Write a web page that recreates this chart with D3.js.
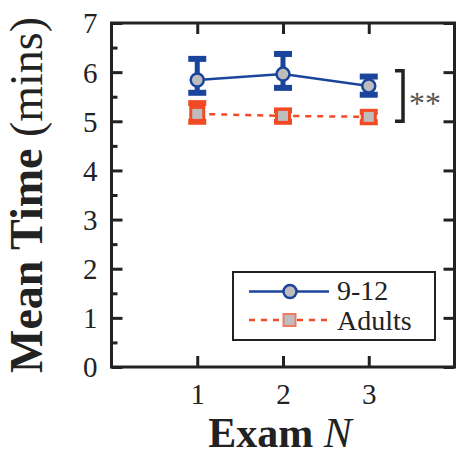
<!DOCTYPE html>
<html><head><meta charset="utf-8">
<script src="https://cdn.jsdelivr.net/npm/d3@7/dist/d3.min.js"></script>
<style>body{margin:0;background:#fff}svg{display:block}
text{font-family:"Liberation Serif","Times New Roman",serif}</style>
</head><body>
<svg id="c" width="456" height="456"></svg>
<script>
const exams = [1, 2, 3];
const kidsMean = [5.84, 5.96, 5.72];
const kidsLo = [5.58, 5.68, 5.54];
const kidsHi = [6.27, 6.37, 5.91];
const adultMean = [5.15, 5.11, 5.09];
const adultLo = [4.99, 4.99, 4.98];
const adultHi = [5.37, 5.22, 5.19];
const yTicks = [0, 1, 2, 3, 4, 5, 6, 7];
const yMinor = [0.5, 1.5, 2.5, 3.5, 4.5, 5.5, 6.5];
const seriesNames = ["9-12", "Adults"];

const blue = "#1b449c", red = "#f24a25", gray = "#bdbdbd", ink = "#222";
const svg = d3.select("#c");
const x = d3.scaleLinear().domain([0, 4]).range([111.5, 454.5]);
const y = d3.scaleLinear().domain([0, 7]).range([367, 23]);
const font = "Liberation Serif";

const gL = svg.append("g").attr("transform", `translate(${x(0)},0)`)
  .call(d3.axisLeft(y).tickValues(yTicks).tickSize(-11).tickPadding(14).tickFormat(d3.format("d")));
const gLm = svg.append("g").attr("transform", `translate(${x(0)},0)`)
  .call(d3.axisLeft(y).tickValues(yMinor).tickSize(-6).tickFormat(""));
const gR = svg.append("g").attr("transform", `translate(${x(4)},0)`)
  .call(d3.axisRight(y).tickValues(yTicks).tickSize(-11).tickFormat(""));
const gB = svg.append("g").attr("transform", `translate(0,${y(0)})`)
  .call(d3.axisBottom(x).tickValues(exams).tickSize(-11).tickPadding(16).tickFormat(d3.format("d")));
const gT = svg.append("g").attr("transform", `translate(0,${y(7)})`)
  .call(d3.axisTop(x).tickValues(exams).tickSize(-11).tickFormat(""));
[gL, gLm, gR, gB, gT].forEach(g => {
  g.attr("font-family", font);
  g.select(".domain").remove();
  g.selectAll(".tick line").attr("stroke", ink).attr("stroke-width", 3);
  g.selectAll("text").attr("font-family", font).attr("font-size", 29).attr("fill", ink);
});
gL.selectAll("text").attr("dy", "0.34em");
gB.selectAll("text").attr("dy", "0.71em");

svg.append("rect").attr("x", x(0)).attr("y", y(7))
  .attr("width", x(4) - x(0)).attr("height", y(0) - y(7))
  .attr("fill", "none").attr("stroke", ink).attr("stroke-width", 3);

const yl = svg.append("text").attr("transform", `translate(42,${(y(0)+y(7))/2}) rotate(-90)`)
  .attr("text-anchor", "middle").attr("font-family", font).attr("font-size", 46).attr("fill", ink);
yl.append("tspan").attr("font-weight", "bold").text("Mean Time ");
yl.append("tspan").text("(mins)");
const xl = svg.append("text").attr("x", 280).attr("y", 447)
  .attr("text-anchor", "middle").attr("font-family", font).attr("font-size", 42).attr("fill", ink);
xl.append("tspan").attr("font-weight", "bold").text("Exam ");
xl.append("tspan").attr("font-style", "italic").text("N");

function series(mean, lo, hi, color, dashed, marker) {
  const g = svg.append("g");
  const line = d3.line().x((d, i) => x(exams[i])).y(d => y(d));
  g.append("path").datum(mean).attr("d", line).attr("fill", "none")
    .attr("stroke", color).attr("stroke-width", 2.5)
    .attr("stroke-dasharray", dashed ? "6,6" : null);
  exams.forEach((e, i) => {
    g.append("line").attr("x1", x(e)).attr("x2", x(e)).attr("y1", y(lo[i])).attr("y2", y(hi[i]))
      .attr("stroke", color).attr("stroke-width", 5);
    [lo[i], hi[i]].forEach(v => g.append("line").attr("x1", x(e) - 9).attr("x2", x(e) + 9)
      .attr("y1", y(v)).attr("y2", y(v)).attr("stroke", color).attr("stroke-width", 6));
  });
  exams.forEach((e, i) => marker(g, x(e), y(mean[i])));
}
const circ = (g, cx, cy) => g.append("circle").attr("cx", cx).attr("cy", cy).attr("r", 6.5)
  .attr("fill", gray).attr("stroke", blue).attr("stroke-width", 2.5);
const sq = (g, cx, cy, c) => g.append("rect").attr("x", cx - 6.5).attr("y", cy - 6.5)
  .attr("width", 13).attr("height", 13).attr("fill", gray).attr("stroke", c || red).attr("stroke-width", 3);

series(kidsMean, kidsLo, kidsHi, blue, false, circ);
series(adultMean, adultLo, adultHi, red, true, (g, cx, cy) => sq(g, cx, cy));

const bx = 403;
svg.append("path").attr("d", `M395,${y(6.03)}H${bx}V${y(5.0)}H395`)
  .attr("fill", "none").attr("stroke", ink).attr("stroke-width", 3.5);
svg.append("text").attr("x", 409).attr("y", 114).attr("font-family", font)
  .attr("font-size", 32).attr("fill", "#555").text("**");

svg.append("rect").attr("x", 233).attr("y", 272).attr("width", 202).attr("height", 68)
  .attr("fill", "#fff").attr("stroke", ink).attr("stroke-width", 2);
svg.append("line").attr("x1", 249).attr("x2", 329).attr("y1", 291.5).attr("y2", 291.5)
  .attr("stroke", blue).attr("stroke-width", 2.5);
circ(svg, 290, 291.5);
svg.append("line").attr("x1", 249).attr("x2", 329).attr("y1", 320).attr("y2", 320)
  .attr("stroke", red).attr("stroke-width", 2.5).attr("stroke-dasharray", "6,6");
svg.append("rect").attr("x", 283.5).attr("y", 314).attr("width", 12).attr("height", 12)
  .attr("fill", gray).attr("stroke", "#f07a60").attr("stroke-width", 2);
svg.selectAll(".lg").data(seriesNames).join("text").attr("class", "lg")
  .attr("x", 337).attr("y", (d, i) => 300 + i * 30)
  .attr("font-family", font).attr("font-size", 28).attr("fill", ink).text(d => d);
</script>
</body></html>
